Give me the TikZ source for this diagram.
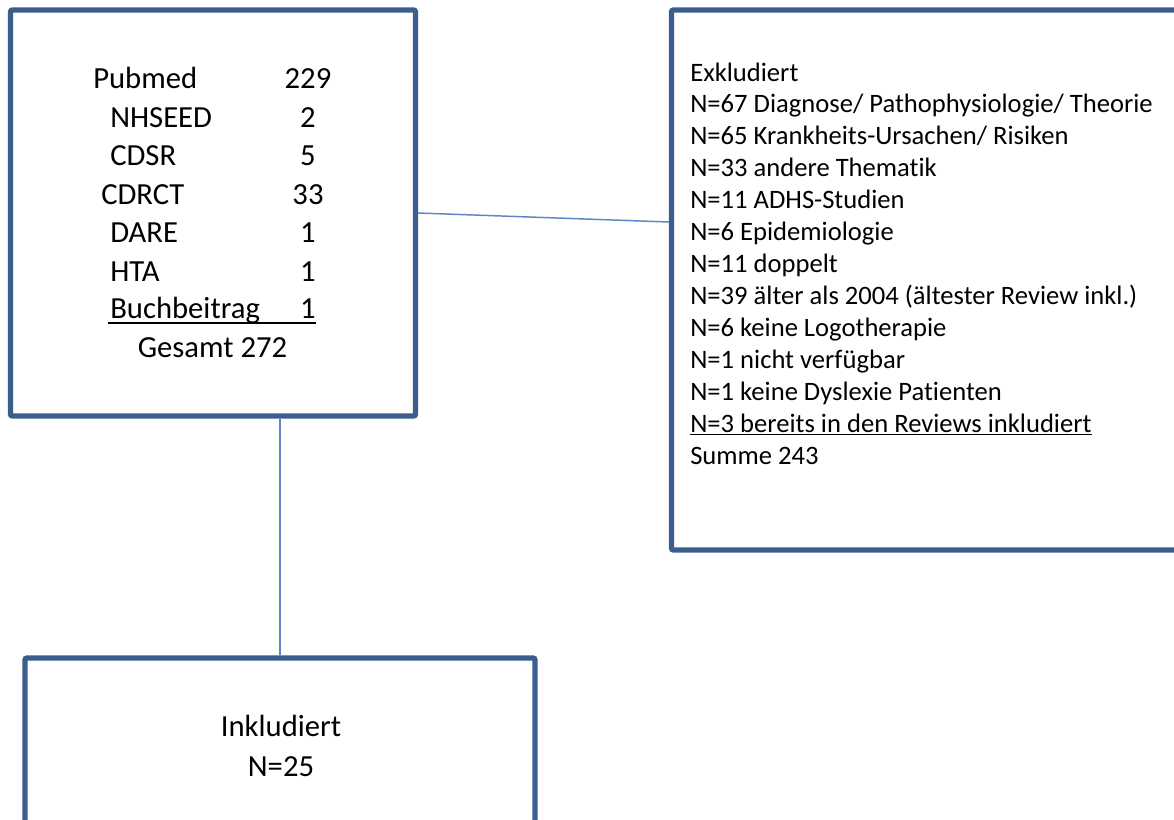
\documentclass[tikz,border=0pt]{standalone}
\usepackage{fontspec}
\setmainfont{Carlito}[Ligatures={NoCommon}]
\definecolor{boxblue}{HTML}{3B5E8C}
\definecolor{linkblue}{HTML}{5B86C5}
\begin{document}
\begin{tikzpicture}[x=0.75pt,y=-0.75pt,
  box/.style={draw=boxblue,line width=4pt,rectangle,inner sep=0pt,rounded corners=1.5pt},
  link/.style={draw=linkblue,line width=1.1pt},
  big/.style={font=\fontsize{23}{29}\selectfont,inner sep=0pt},
  small/.style={font=\fontsize{19.95}{24}\selectfont,inner sep=0pt,anchor=base west},
  rule/.style={draw=black,line width=1.1pt}]
\clip (0,0) rectangle (1174,819);
\fill[white] (0,0) rectangle (1174,819);
% boxes
\node[box,minimum width=303.75pt,minimum height=304.5pt] (lbox) at (213,213) {};
\node[box,minimum width=388.9pt,minimum height=405pt] (rbox) at (930.75,280) {};
\node[box,minimum width=382.5pt,minimum height=151.5pt] (bbox) at (280,759) {};
% connectors
\draw[link] (lbox.east) -- ([yshift=43.5pt]rbox.west);
\draw[link] (bbox.north) -- (bbox.north |- lbox.south);
% left box text
\node[big,anchor=base west] (l1) at (93,88) {Pubmed};
\node[big,anchor=base west] (l2) at (110,127) {NHSEED};
\node[big,anchor=base west] (l3) at (110,165) {CDSR};
\node[big,anchor=base west] (l4) at (101,204) {CDRCT};
\node[big,anchor=base west] (l5) at (110,242) {DARE};
\node[big,anchor=base west] (l6) at (110,281) {HTA};
\node[big,anchor=base west] (l7) at (110,318) {Buchbeitrag};
\node[big,anchor=base] (n1) at (308,88) {229};
\node[big,anchor=base] (n2) at (308,127) {2};
\node[big,anchor=base] (n3) at (308,165) {5};
\node[big,anchor=base] (n4) at (308,204) {33};
\node[big,anchor=base] (n5) at (308,242) {1};
\node[big,anchor=base] (n6) at (308,281) {1};
\node[big,anchor=base] (n7) at (308,318) {1};
\draw[rule] (108,323) -- (316,323);
\node[big,anchor=base] (gesamt) at (212.5,357) {Gesamt 272};
% right box text
\foreach \t [count=\i from 0] in {Exkludiert,
  N=67 Diagnose/ Pathophysiologie/ Theorie,
  N=65 Krankheits-Ursachen/ Risiken,
  N=33 andere Thematik,
  N=11 ADHS-Studien,
  N=6 Epidemiologie,
  N=11 doppelt,
  N=39 älter als 2004 (ältester Review inkl.),
  N=6 keine Logotherapie,
  N=1 nicht verfügbar,
  N=1 keine Dyslexie Patienten,
  {\underline{N=3 bereits in den Reviews inkludiert}},
  Summe 243}
  \node[small] (r\i) at (690,{81+31.92*\i}) {\t};
% bottom box text
\node[big,anchor=base] (inkl) at (281,736) {Inkludiert};
\node[big,anchor=base] (n25) at (281,776) {N=25};
\end{tikzpicture}
\end{document}
